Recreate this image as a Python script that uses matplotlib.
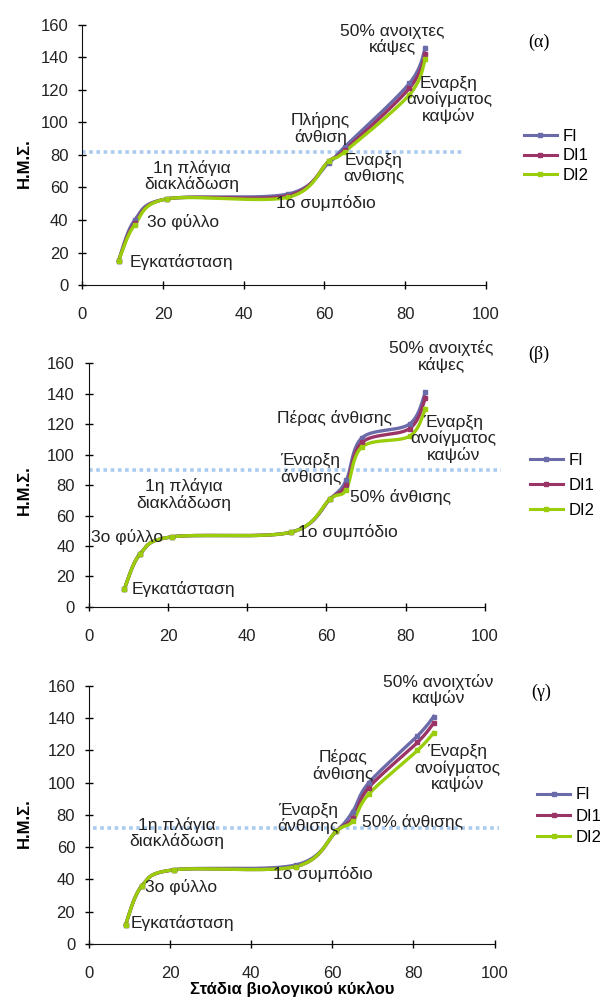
import numpy as np
import matplotlib
matplotlib.use('Agg')
import matplotlib.pyplot as plt

plt.rcParams['font.family'] = ['Liberation Sans', 'DejaVu Sans']

# Στάδια (x) και Η.Μ.Σ. ανά μεταχείριση
x_a = [9, 13, 21, 51, 61, 65, 81, 85]
fi_a = [15, 40, 53, 56, 75, 85, 124, 146]
di1_a = [15, 38, 53, 55, 76, 83, 121, 142]
di2_a = [15, 37, 53, 54, 76, 82, 117, 139]

x_b = [9, 13, 21, 51, 61, 65, 69, 81, 85]
fi_b = [12, 35, 46, 49, 71, 83, 111, 120, 141]
di1_b = [12, 35, 46, 49, 71, 80, 108, 117, 137]
di2_b = [12, 35, 46, 49, 71, 77, 105, 112, 130]

x_c = [9, 13, 21, 51, 61, 65, 69, 81, 85]
fi_c = [12, 36, 46, 49, 70, 82, 100, 129, 141]
di1_c = [12, 36, 46, 48, 70, 78, 97, 125, 137]
di2_c = [12, 36, 46, 48, 70, 76, 93, 120, 131]

series_names = ['FI', 'DI1', 'DI2']
colors = ['#6B6BAA', '#9B3466', '#9ACD0A']
threshold = [82, 90, 72]
panel_labels = ['(α)', '(β)', '(γ)']

notes_a = [('Εγκατάσταση', 24.6, 13.9), ('3ο φύλλο', 25.1, 38.6),
           ('1η πλάγια\nδιακλάδωση', 27.2, 67), ('1ο συμπόδιο', 60.3, 50.3),
           ('Πλήρης\nάνθιση', 59, 96.4), ('Εναρξη\nανθισης', 72.2, 71.8),
           ('Εναρξη\nανοίγματος\nκαψών', 90.8, 113.8),
           ('50% ανοιχτες\nκάψες', 76.8, 151)]
notes_b = [('Εγκατάσταση', 23.9, 11.6), ('3ο φύλλο', 9.7, 46),
           ('1η πλάγια\nδιακλάδωση', 23.9, 73.6), ('1ο συμπόδιο', 65.4, 48.9),
           ('Έναρξη\nάνθισης', 56, 90.5), ('50% άνθισης', 78.7, 72.3),
           ('Πέρας άνθισης', 62.1, 123.8),
           ('Έναρξη\nανοίγματος\nκαψών', 92, 110.2),
           ('50% ανοιχτές\nκάψες', 89.1, 164.4)]
notes_c = [('Εγκατάσταση', 22.9, 12.8), ('3ο φύλλο', 22.8, 35.1),
           ('1η πλάγια\nδιακλάδωση', 21.6, 68.8), ('1ο συμπόδιο', 57.7, 43.2),
           ('Έναρξη\nάνθισης', 54, 77.9), ('50% άνθισης', 79.7, 75.9),
           ('Πέρας\nάνθισης', 62.7, 110.8),
           ('Έναρξη\nανοίγματος\nκαψών', 90.8, 108.9),
           ('50% ανοιχτών\nκαψών', 86.2, 157.5)]


def smooth(x, y, n=40):
    # καμπύλη Bezier όπως η "εξομάλυνση" του Excel
    pts = np.column_stack([x, y]).astype(float)
    P = np.vstack([pts[0], pts, pts[-1]])
    t = np.linspace(0, 1, n)[:, None]
    out = []
    for i in range(1, len(P) - 2):
        p0, p1, p2, p3 = P[i - 1], P[i], P[i + 1], P[i + 2]
        c1 = p1 + (p2 - p0) / 6
        c2 = p2 - (p3 - p1) / 6
        out.append((1 - t) ** 3 * p1 + 3 * (1 - t) ** 2 * t * c1
                   + 3 * (1 - t) * t ** 2 * c2 + t ** 3 * p2)
    return np.vstack(out)


fig = plt.figure(figsize=(6, 9.99), dpi=100)

panels = [
    ([0.137, 0.7147, 0.673, 0.2603], x_a, [fi_a, di1_a, di2_a], notes_a,
     (0.0, 0.94), (0.873, 0.844), 0.25, (0.898, 0.958), 0.837),
    ([0.148, 0.3924, 0.660, 0.2442], x_b, [fi_b, di1_b, di2_b], notes_b,
     (0.0, 1.04), (0.883, 0.5145), 0.6, (0.898, 0.645), 0.509),
    ([0.1485, 0.0551, 0.6757, 0.2583], x_c, [fi_c, di1_c, di2_c], notes_c,
     (0.01, 1.01), (0.895, 0.183), 0.38, (0.902, 0.307), 0.176),
]

for k, (rect, xs, ys, notes, hspan, legpos, lspace, labpos, ylab_y) in enumerate(panels):
    ax = fig.add_axes(rect)
    for name, yv, c in zip(series_names, ys, colors):
        curve = smooth(xs, yv)
        ax.plot(curve[:, 0], curve[:, 1], color=c, lw=2.4, zorder=3)
        ax.plot(xs, yv, 's', color=c, ms=3.5, zorder=4)
        ax.plot([], [], '-s', color=c, lw=2.2, ms=3.5, label=name)

    ax.plot([hspan[0] * 100, hspan[1] * 100], [threshold[k]] * 2,
            color='#A9CBEF', lw=2.6, ls=(0, (1, 1)), clip_on=False, zorder=2)

    for txt, tx, ty in notes:
        ax.text(tx, ty, txt, ha='center', va='center', fontsize=12.5,
                color='#222222', linespacing=1.05, zorder=5)

    ax.set_xlim(0, 100)
    ax.set_ylim(0, 160)
    ax.set_xticks(np.arange(0, 101, 20))
    ax.set_yticks(np.arange(0, 161, 20))
    for s in ['top', 'right']:
        ax.spines[s].set_visible(False)
    for s in ['left', 'bottom']:
        ax.spines[s].set_color('#111111')
    ax.tick_params(direction='inout', length=6, width=1, labelsize=12,
                   labelcolor='#222222', pad=7)
    ax.tick_params(axis='x', pad=13)

    ax.legend(loc='center left', bbox_to_anchor=legpos,
              bbox_transform=fig.transFigure, frameon=False, fontsize=12,
              handlelength=2.0, handletextpad=0.3, labelspacing=lspace,
              borderaxespad=0, borderpad=0)

    fig.text(labpos[0], labpos[1], panel_labels[k], fontsize=13,
             ha='center', va='center', family=['Liberation Serif', 'DejaVu Serif'])
    fig.text(0.04, ylab_y, 'Η.Μ.Σ.', rotation=90, fontsize=12,
             fontweight='bold', ha='center', va='center')

    if k == 2:
        ax.set_xlabel('Στάδια βιολογικού κύκλου', fontsize=12,
                      fontweight='bold', labelpad=0)

fig.savefig('out.png', dpi=100)
